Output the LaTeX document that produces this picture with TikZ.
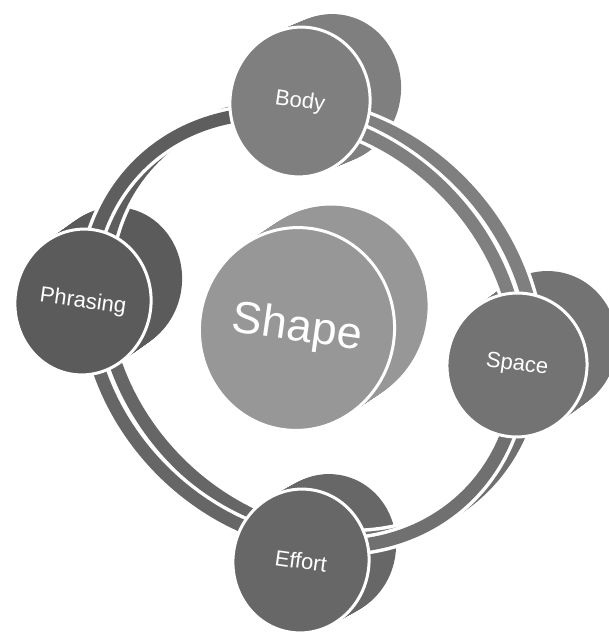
\documentclass[tikz,border=0pt]{standalone}
\usepackage{fontspec}
\setmainfont{Liberation Sans}
\usetikzlibrary{shapes.geometric}
\definecolor{cbody}{HTML}{7F7F7F}
\definecolor{cphr}{HTML}{5B5B5B}
\definecolor{cspace}{HTML}{737373}
\definecolor{ceff}{HTML}{676767}
\definecolor{cshape}{HTML}{979797}
\definecolor{rUR}{HTML}{7F7F7F}
\definecolor{rUL}{HTML}{5E5E5E}
\definecolor{rLL}{HTML}{666666}
\definecolor{rLR}{HTML}{707070}
\newcommand\extrude[7]{% cx cy rx ry dx dy color
  \foreach \i in {0,...,24}{
    \pgfmathsetmacro\ex{#1+\i/24*#5}
    \pgfmathsetmacro\ey{#2+\i/24*#6}
    \fill[#7, rotate around={-8:(\ex,\ey)}] (\ex,\ey) ellipse [x radius=#3, y radius=#4];
  }}
\newcommand\ringarc[4]{% from to dx dy
  plot[domain=#1:#2, samples=60] ({303+#3+164.75*cos(\x)+140.7*sin(\x)},{330+#4+164.75*cos(\x)-140.7*sin(\x)})}
\begin{document}
\begin{tikzpicture}[x=1pt,y=-1pt,
  front/.style={ellipse, draw=white, line width=3pt, inner sep=0pt, text=white,
    font=\fontsize{22}{22}\selectfont, rotate=-8},
  ringwhite/.style={draw=white, line width=20pt},
  ringband/.style={line width=13pt},
]
\useasboundingbox (0,0) rectangle (609,634);
% central disc
\extrude{297}{329}{97.5}{101.5}{33}{-22}{cshape}
\node[front, fill=cshape, minimum width=195pt, minimum height=203pt,
  font=\fontsize{45}{45}\selectfont] (shape) at (297,329) {Shape};
% extrusions of outer discs
\extrude{300}{102}{70}{75}{31}{-13}{cbody}
\extrude{83}{302}{68}{73}{31}{-22}{cphr}
\extrude{517}{365}{70}{72}{30}{-22}{cspace}
\extrude{301}{561}{68}{72}{27}{-15}{ceff}
% ring: back band
\foreach \a/\b/\c in {40/131/rUR,131/222/rUL,222/310/rLL,310/400/rLR}{
  \draw[ringwhite] \ringarc{\a}{\b}{16}{-8};
}
\foreach \a/\b/\c in {40/131/rUR,131/222/rUL,222/310/rLL,310/400/rLR}{
  \draw[ringband, draw=\c] \ringarc{\a}{\b}{16}{-8};
}
% ring: front band
\foreach \a/\b/\c in {40/131/rUR,131/222/rUL,222/310/rLL,310/400/rLR}{
  \draw[ringwhite] \ringarc{\a}{\b}{0}{0};
}
\foreach \a/\b/\c in {40/131/rUR,131/222/rUL,222/310/rLL,310/400/rLR}{
  \draw[ringband, draw=\c] \ringarc{\a}{\b}{0}{0};
}
% front discs
\node[front, fill=cbody, minimum width=140pt, minimum height=150pt] (body) at (300,102) {Body};
\node[front, fill=cphr, minimum width=136pt, minimum height=146pt] (phrasing) at (83,302) {Phrasing};
\node[front, fill=cspace, minimum width=140pt, minimum height=144pt] (space) at (517,365) {Space};
\node[front, fill=ceff, minimum width=136pt, minimum height=144pt] (effort) at (301,561) {Effort};
\end{tikzpicture}
\end{document}
